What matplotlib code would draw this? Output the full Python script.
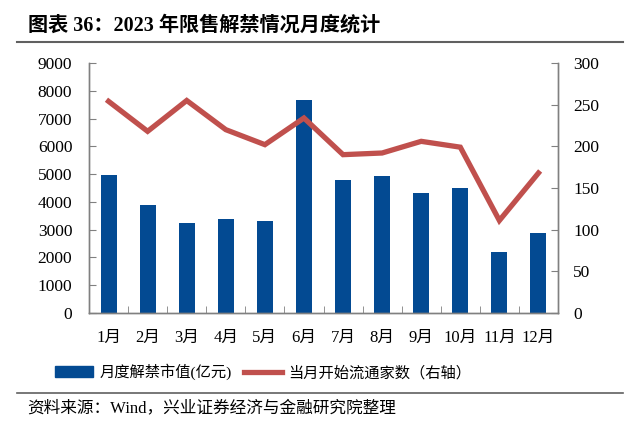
import matplotlib
matplotlib.use("Agg")
import matplotlib.pyplot as plt
from matplotlib.lines import Line2D
from matplotlib.patches import Patch
import numpy as np

months = ["1月", "2月", "3月", "4月", "5月", "6月", "7月", "8月", "9月", "10月", "11月", "12月"]
unlock_value = [4980, 3900, 3240, 3390, 3300, 7680, 4780, 4920, 4320, 4500, 2200, 2880]
new_listed = [254, 218, 255, 220, 202, 234, 190, 192, 206, 199, 111, 168]
left_ticks = [0, 1000, 2000, 3000, 4000, 5000, 6000, 7000, 8000, 9000]
right_ticks = [0, 50, 100, 150, 200, 250, 300]

FONTS = ["Liberation Serif", "Noto Sans CJK SC"]
plt.rcParams["font.family"] = FONTS

BLUE = "#034A92"
RED = "#C0504D"
GRAY = "#808080"

fig = plt.figure(figsize=(6.4, 4.34), dpi=100)
W, H = 640, 434
ax = fig.add_axes([89 / W, 1 - 313 / H, (558 - 89) / W, (313 - 63) / H])
ax2 = ax.twinx()

x = np.arange(len(months))
ax.bar(x, unlock_value, width=0.41, color=BLUE, zorder=2)
ax2.plot(x, new_listed, color=RED, linewidth=3.8, solid_joinstyle="miter", zorder=3)

ax.set_xlim(-0.5, len(months) - 0.5)
ax.set_ylim(0, 9000)
ax2.set_ylim(0, 300)
ax.set_yticks(left_ticks)
ax2.set_yticks(right_ticks)
ax.set_xticks(x)
ax.set_xticklabels(months)
ax.set_xticks(np.arange(-0.5, len(months) + 0.5, 1), minor=True)

for a in (ax, ax2):
    a.spines["top"].set_visible(False)
    for s in ("left", "right", "bottom"):
        a.spines[s].set_color(GRAY)
        a.spines[s].set_linewidth(1.0)
    a.tick_params(axis="y", direction="in", length=5, color=GRAY, labelsize=12.5, pad=12)

ax.tick_params(axis="x", which="major", length=0, labelsize=12, pad=12)
ax.tick_params(axis="x", which="minor", direction="in", length=5, color=GRAY)
ax2.tick_params(axis="y", pad=11)

# Title
fig.text(28 / W, 1 - 26 / H, "图表 36：2023 年限售解禁情况月度统计", fontsize=14.5,
         fontweight="bold", va="center", ha="left", family=FONTS)
fig.add_artist(Line2D([17 / W, 623 / W], [1 - 42 / H, 1 - 42 / H], color="#606060", lw=1.5))

# Legend
handles = [Patch(facecolor=BLUE, edgecolor=BLUE),
           Line2D([0], [0], color=RED, lw=3.8)]
labels = ["月度解禁市值(亿元)", "当月开始流通家数（右轴）"]
fig.legend(handles, labels, loc="center", bbox_to_anchor=(263 / W, 1 - 372 / H),
           ncol=2, frameon=False, fontsize=11, handlelength=2.5, handleheight=0.7,
           columnspacing=0.8, handletextpad=0.4)

fig.add_artist(Line2D([17 / W, 623 / W], [1 - 393 / H, 1 - 393 / H], color="#606060", lw=1.2))
fig.text(27 / W, 1 - 408 / H, "资料来源：Wind，兴业证券经济与金融研究院整理", fontsize=12,
         va="center", ha="left", family=FONTS)

fig.savefig("out.png", dpi=100)
